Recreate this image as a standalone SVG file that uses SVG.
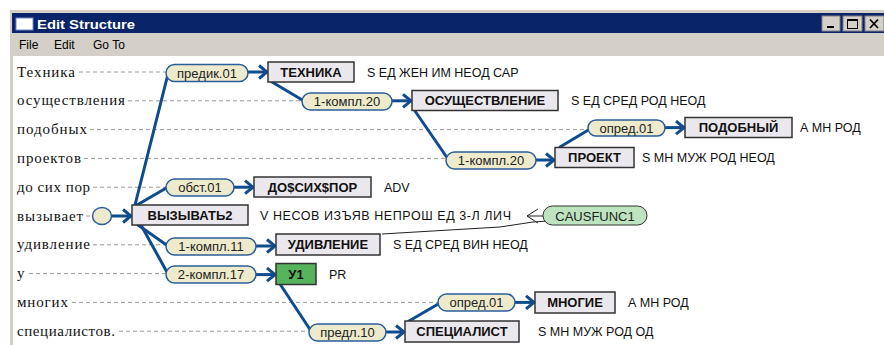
<svg xmlns="http://www.w3.org/2000/svg" width="884" height="345" viewBox="0 0 884 345">
  <defs>
    <marker id="arr" markerUnits="userSpaceOnUse" markerWidth="12" markerHeight="16" viewBox="0 0 12 16" refX="10" refY="8" orient="auto">
      <path d="M2,1.5 L10,8 L2,14.5" fill="none" stroke="#0f4c8f" stroke-width="3" stroke-linejoin="miter"/>
    </marker>
    <style>
      .word { font-family: "Liberation Serif", "DejaVu Serif", serif; font-size: 15px; fill: #111; }
      .dash { stroke: #9a9a9a; stroke-width: 1; stroke-dasharray: 4 3; fill: none; }
      .edge { stroke: #0f4c8f; stroke-width: 3; fill: none; stroke-linecap: round; }
      .arrow { stroke: #0f4c8f; stroke-width: 3; fill: none; marker-end: url(#arr); }
      .box { fill: #ebe8ed; stroke: #333; stroke-width: 1.5; }
      .boxg { fill: #55b35b; stroke: #333; stroke-width: 1.5; }
      .lbl { font-family: "Liberation Sans", Arial, sans-serif; font-size: 13px; font-weight: bold; fill: #111; text-anchor: middle; }
      .attr { font-family: "Liberation Sans", Arial, sans-serif; font-size: 12.5px; fill: #111; }
      .pill { fill: #edebcb; stroke: #2b5d9b; stroke-width: 1.5; }
      .ptxt { font-family: "Liberation Sans", Arial, sans-serif; font-size: 13px; fill: #222; text-anchor: middle; }
      .menu { font-family: "Liberation Sans", Arial, sans-serif; font-size: 12px; fill: #000; }
    </style>
  </defs>

  <!-- window frame -->
  <rect x="0" y="0" width="884" height="345" fill="#ffffff"/>
  <rect x="10" y="10" width="874" height="335" fill="#d4d0c8"/>
  <rect x="12" y="13" width="872" height="20" fill="#0a246a"/>
  <rect x="16" y="18" width="17" height="12" fill="#ffffff" stroke="#6d8fd0" stroke-width="1"/>
  <text x="37" y="28.5" font-family="Liberation Sans, Arial, sans-serif" font-size="13px" font-weight="bold" fill="#ffffff" textLength="98" lengthAdjust="spacingAndGlyphs">Edit Structure</text>
  <!-- caption buttons -->
  <g id="caption-buttons">
    <rect x="822" y="16" width="18" height="15" fill="#d4d0c8" stroke="#808080" stroke-width="1"/>
    <rect x="827" y="26" width="7" height="2" fill="#000"/>
    <rect x="843" y="16" width="19" height="15" fill="#d4d0c8" stroke="#808080" stroke-width="1"/>
    <rect x="847.5" y="19.5" width="10" height="9" fill="none" stroke="#000" stroke-width="1"/>
    <rect x="847.5" y="19.5" width="10" height="1.5" fill="#000"/>
    <rect x="865" y="16" width="19" height="15" fill="#d4d0c8" stroke="#808080" stroke-width="1"/>
    <path d="M870,19.5 L878,28 M878,19.5 L870,28" stroke="#000" stroke-width="1.8"/>
  </g>
  <!-- menu bar -->
  <rect x="12" y="33" width="872" height="23" fill="#d4d0c8"/>
  <text class="menu" x="19" y="49">File</text>
  <text class="menu" x="54" y="49">Edit</text>
  <text class="menu" x="93" y="49">Go To</text>
  <!-- content area -->
  <rect x="13" y="56" width="871" height="289" fill="#ffffff"/>

  <!-- sentence words with guide lines -->
  <g id="words">
    <text class="word" x="17" y="76.5" textLength="58" lengthAdjust="spacing">Техника</text>
    <text class="word" x="17" y="105.3" textLength="108" lengthAdjust="spacing">осуществления</text>
    <text class="word" x="17" y="134.1" textLength="70" lengthAdjust="spacing">подобных</text>
    <text class="word" x="17" y="162.9" textLength="64" lengthAdjust="spacing">проектов</text>
    <text class="word" x="17" y="191.7" textLength="73" lengthAdjust="spacing">до сих пор</text>
    <text class="word" x="17" y="220.5" textLength="66" lengthAdjust="spacing">вызывает</text>
    <text class="word" x="17" y="249.3" textLength="73" lengthAdjust="spacing">удивление</text>
    <text class="word" x="17" y="278.1">у</text>
    <text class="word" x="17" y="306.9" textLength="51" lengthAdjust="spacing">многих</text>
    <text class="word" x="17" y="335.7" textLength="98" lengthAdjust="spacing">специалистов.</text>
  </g>
  <g id="guides">
    <line class="dash" x1="79" y1="72" x2="166" y2="72"/>
    <line class="dash" x1="128" y1="100.8" x2="303" y2="100.8"/>
    <line class="dash" x1="90" y1="129.6" x2="589" y2="129.6"/>
    <line class="dash" x1="84" y1="158.4" x2="447" y2="158.4"/>
    <line class="dash" x1="93" y1="187.2" x2="166" y2="187.2"/>
    <line class="dash" x1="86" y1="216" x2="93" y2="216"/>
    <line class="dash" x1="93" y1="244.8" x2="166" y2="244.8"/>
    <line class="dash" x1="29" y1="273.6" x2="166" y2="273.6"/>
    <line class="dash" x1="72" y1="302.4" x2="439" y2="302.4"/>
    <line class="dash" x1="119" y1="331.2" x2="309" y2="331.2"/>
  </g>

  <!-- connectors -->
  <g id="connectors">
    <!-- tree edges -->
    <line class="edge" x1="135" y1="205" x2="168" y2="74"/>
    <line class="edge" x1="137" y1="205" x2="168" y2="187"/>
    <line class="edge" x1="138" y1="225" x2="168" y2="246"/>
    <line class="edge" x1="141" y1="225" x2="168" y2="274"/>
    <line class="edge" x1="272" y1="82" x2="304" y2="101"/>
    <line class="edge" x1="415" y1="111" x2="448" y2="159"/>
    <line class="edge" x1="560" y1="147" x2="590" y2="129"/>
    <line class="edge" x1="280" y1="284" x2="311" y2="331"/>
    <line class="edge" x1="409" y1="321" x2="440" y2="303"/>
    <!-- pill to box arrows -->
    <line class="arrow" x1="247" y1="72" x2="267" y2="72"/>
    <line class="arrow" x1="391" y1="100.8" x2="411" y2="100.8"/>
    <line class="arrow" x1="664" y1="127.6" x2="684" y2="127.6"/>
    <line class="arrow" x1="535" y1="160" x2="554" y2="160"/>
    <line class="arrow" x1="233" y1="187.2" x2="253" y2="187.2"/>
    <line class="arrow" x1="111" y1="216" x2="131" y2="216"/>
    <line class="arrow" x1="255" y1="246" x2="275" y2="246"/>
    <line class="arrow" x1="255" y1="274.6" x2="275" y2="274.6"/>
    <line class="arrow" x1="514" y1="302.4" x2="534" y2="302.4"/>
    <line class="arrow" x1="385" y1="332" x2="404" y2="332"/>
    <!-- function link -->
    <path d="M544,216 H527 M538,209 L527,216 L538,223" fill="none" stroke="#222" stroke-width="1"/>
    <polyline points="382,234 500,227 533,222 548,221" fill="none" stroke="#222" stroke-width="1"/>
  </g>

  <!-- relation pills -->
  <g id="rel-predik"><rect class="pill" x="166" y="64.5" width="82" height="17" rx="8.5"/><text class="ptxt" x="207" y="77.5">предик.01</text></g>
  <g id="rel-kompl20a"><rect class="pill" x="302" y="93" width="90" height="17" rx="8.5"/><text class="ptxt" x="347" y="106">1-компл.20</text></g>
  <g id="rel-opred-a"><rect class="pill" x="588" y="120" width="77" height="16" rx="8"/><text class="ptxt" x="626.5" y="132.5">опред.01</text></g>
  <g id="rel-kompl20b"><rect class="pill" x="446" y="152" width="90" height="17" rx="8.5"/><text class="ptxt" x="491" y="165">1-компл.20</text></g>
  <g id="rel-obst"><rect class="pill" x="166" y="179" width="68" height="17" rx="8.5"/><text class="ptxt" x="200" y="192">обст.01</text></g>
  <g id="root-anchor"><ellipse class="pill" cx="102" cy="216" rx="9.5" ry="8.5"/></g>
  <g id="rel-kompl11"><rect class="pill" x="166" y="238" width="90" height="17" rx="8.5"/><text class="ptxt" x="211" y="251">1-компл.11</text></g>
  <g id="rel-kompl17"><rect class="pill" x="166" y="266" width="90" height="17" rx="8.5"/><text class="ptxt" x="211" y="279">2-компл.17</text></g>
  <g id="rel-opred-b"><rect class="pill" x="438" y="294" width="77" height="17" rx="8.5"/><text class="ptxt" x="476.5" y="307">опред.01</text></g>
  <g id="rel-predl"><rect class="pill" x="309" y="324" width="77" height="17" rx="8.5"/><text class="ptxt" x="347.5" y="337">предл.10</text></g>
  <g id="func-causfunc"><rect x="543" y="206" width="104" height="19" rx="9.5" fill="#bde4bf" stroke="#333" stroke-width="1"/><text class="ptxt" x="595" y="220.5">CAUSFUNC1</text></g>

  <!-- lexeme nodes -->
  <g id="n-tehnika"><rect class="box" x="268" y="62" width="86" height="20"/><text class="lbl" x="311" y="76.5">ТЕХНИКА</text><text class="attr" x="367" y="76.5">S ЕД ЖЕН ИМ НЕОД САР</text></g>
  <g id="n-osush"><rect class="box" x="412" y="90.5" width="146" height="20"/><text class="lbl" x="485" y="105">ОСУЩЕСТВЛЕНИЕ</text><text class="attr" x="571" y="105">S ЕД СРЕД РОД НЕОД</text></g>
  <g id="n-podobny"><rect class="box" x="685" y="117.5" width="107" height="20"/><text class="lbl" x="738.5" y="132">ПОДОБНЫЙ</text><text class="attr" x="800" y="132">А МН РОД</text></g>
  <g id="n-proekt"><rect class="box" x="555" y="147.5" width="79" height="20"/><text class="lbl" x="594.5" y="162">ПРОЕКТ</text><text class="attr" x="642" y="162">S МН МУЖ РОД НЕОД</text></g>
  <g id="n-dosihpor"><rect class="box" x="254" y="177" width="117" height="20"/><text class="lbl" x="312.5" y="191.5">ДО$СИХ$ПОР</text><text class="attr" x="384" y="191.5">ADV</text></g>
  <g id="n-vyzyvat"><rect class="box" x="132" y="205" width="116" height="20"/><text class="lbl" x="190" y="219.5">ВЫЗЫВАТЬ2</text><text class="attr" x="260" y="219.5" textLength="251" lengthAdjust="spacing">V НЕСОВ ИЗЪЯВ НЕПРОШ ЕД 3-Л ЛИЧ</text></g>
  <g id="n-udivlenie"><rect class="box" x="276" y="234" width="104" height="21"/><text class="lbl" x="328" y="249">УДИВЛЕНИЕ</text><text class="attr" x="393" y="249">S ЕД СРЕД ВИН НЕОД</text></g>
  <g id="n-u1"><rect class="boxg" x="276" y="263.5" width="40" height="21"/><text class="lbl" x="296" y="278.5">У1</text><text class="attr" x="329" y="278.5">PR</text></g>
  <g id="n-mnogie"><rect class="box" x="535" y="292" width="80" height="21"/><text class="lbl" x="575" y="307">МНОГИЕ</text><text class="attr" x="628" y="307">А МН РОД</text></g>
  <g id="n-specialist"><rect class="box" x="405" y="321" width="114" height="21"/><text class="lbl" x="462" y="336">СПЕЦИАЛИСТ</text><text class="attr" x="538" y="336">S МН МУЖ РОД ОД</text></g>
</svg>
